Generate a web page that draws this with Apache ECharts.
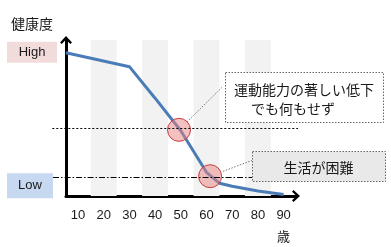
<!DOCTYPE html>
<html><head><meta charset="utf-8">
<script src="https://cdn.jsdelivr.net/npm/echarts@6/dist/echarts.min.js"></script>
<style>html,body{margin:0;padding:0;background:#fff}#c{width:391px;height:247px}</style>
</head><body><div id="c"></div>
<script>
// ---- data ----
const ages = [5.33, 30, 40, 50, 60, 65, 70, 80, 90];
const health = [91.8, 82.9, 62.7, 41.8, 15.2, 8.2, 6.3, 3.2, 1.0];
const xTicks = [10, 20, 30, 40, 50, 60, 70, 80, 90];
const levelValues = [92.1, 6.6];
const levelNames = ['High', 'Low'];
const stripeCenters = [20, 40, 60, 80];
const circleAges = [49.3, 61.4];
const circleValues = [42.4, 12.7];
const refLineValues = [43.7, 12.0];
const calloutTexts = [['運動能力の著しい低下', 'でも何もせず'], ['生活が困難']];

const CJK = '"Noto Sans CJK JP", sans-serif';
const NUM = '"Liberation Sans", "Noto Sans CJK JP", sans-serif';

const chart = echarts.init(document.getElementById('c'), null, {renderer: 'canvas'});
const arrow = 'path://M6,0 L12,6.5 L10.2,8 L6,3.4 L1.8,8 L0,6.5 Z';

const option = {
  animation: false,
  grid: {left: 66, right: 95, top: 40, bottom: 49},
  xAxis: {
    type: 'value', min: 5.33, max: 94.82,
    axisLine: {show: true, lineStyle: {color: '#000', width: 3}, symbol: ['none', arrow], symbolSize: [12, 8]},
    axisTick: {show: false}, splitLine: {show: false},
    axisLabel: {
      customValues: xTicks, margin: 9, color: '#1a1a1a', fontSize: 13, fontFamily: NUM, lineHeight: 21,
      formatter: v => v === 90 ? '90\n{u|歳}' : String(v),
      rich: {u: {fontFamily: CJK, fontSize: 13, color: '#1a1a1a', lineHeight: 21}}
    }
  },
  yAxis: {
    type: 'value', min: 0, max: 100,
    name: '健康度', nameLocation: 'end', nameGap: 16,
    nameTextStyle: {fontFamily: CJK, fontSize: 14, color: '#1a1a1a', align: 'right', verticalAlign: 'middle', padding: [0, 13, 0, 0]},
    axisLine: {show: true, lineStyle: {color: '#000', width: 3}, symbol: ['none', arrow], symbolSize: [12, 8]},
    axisTick: {show: false}, splitLine: {show: false},
    axisLabel: {
      customValues: levelValues, margin: 9, fontFamily: NUM, fontSize: 13,
      formatter: v => v === levelValues[0] ? '{h|' + levelNames[0] + '}' : '{l|' + levelNames[1] + '}{g|}',
      rich: {
        h: {backgroundColor: '#f2dcdb', width: 50, height: 21, align: 'center', verticalAlign: 'middle', color: '#1a1a1a', fontSize: 13},
        l: {backgroundColor: '#c6d9f1', width: 46, height: 25, align: 'center', verticalAlign: 'middle', color: '#1a1a1a', fontSize: 13},
        g: {width: 4}
      }
    }
  },
  series: [{
    type: 'line',
    data: ages.map((a, i) => [a, health[i]]),
    symbol: 'none', smooth: false,
    lineStyle: {color: '#4a7db8', width: 3},
    z: 3,
    markArea: {
      silent: true,
      itemStyle: {color: '#f2f2f2'},
      data: stripeCenters.map(c => [{xAxis: c - 5.05}, {xAxis: c + 5.05}])
    },
    markPoint: {
      silent: true,
      symbol: 'circle', symbolSize: 23,
      itemStyle: {color: 'rgba(236,130,130,0.5)', borderColor: '#c83c3c', borderWidth: 1},
      label: {show: false},
      data: circleAges.map((a, i) => ({coord: [a, circleValues[i]]}))
    }
  }]
};
chart.setOption(option);

// annotations placed through the axes' scales
const px = (a, v) => chart.convertToPixel({xAxisIndex: 0, yAxisIndex: 0}, [a, v]);
const refLineSpans = [[0, 95.6], [0.3, 77.7]];
const refLineDash = [[2, 2], [6, 2, 1.5, 2]];
const connectors = [[[52.4, 47.5], [66.0, 69.6]], [[66.4, 15.8], [77.7, 22.8]]];
const boxCenters = [[97.9, 63.3], [103.6, 19.0]];
const boxSizes = [[158, 50], [133, 30]];
const boxFills = ['#ffffff', '#e9e9e9'];

const g = [];
refLineValues.forEach((v, i) => {
  const p1 = px(refLineSpans[i][0], v), p2 = px(refLineSpans[i][1], v);
  g.push({type: 'line', z: 5, silent: true, shape: {x1: p1[0], y1: Math.round(p1[1]) + 0.5, x2: p2[0], y2: Math.round(p2[1]) + 0.5},
    style: {stroke: '#000', lineWidth: 1, lineDash: refLineDash[i]}});
});
connectors.forEach(c => {
  const p1 = px(c[0][0], c[0][1]), p2 = px(c[1][0], c[1][1]);
  g.push({type: 'line', z: 6, silent: true, shape: {x1: p1[0], y1: p1[1], x2: p2[0], y2: p2[1]},
    style: {stroke: '#777', lineWidth: 1, lineDash: [1.5, 1.5]}});
});
boxCenters.forEach((b, i) => {
  const c = px(b[0], b[1]);
  const w = boxSizes[i][0], h = boxSizes[i][1];
  g.push({type: 'rect', z: 20, silent: true,
    shape: {x: Math.round(c[0] - w / 2) + 0.5, y: Math.round(c[1] - h / 2) + 0.5, width: w, height: h},
    style: {fill: boxFills[i], stroke: '#666', lineWidth: 1, lineDash: [1.5, 1.5]}});
  const lines = calloutTexts[i];
  const lh = 19;
  lines.forEach((t, j) => {
    const dy = (j - (lines.length - 1) / 2) * lh + (lines.length > 1 ? 1.5 : 1);
    const dx = (lines.length > 1 && j === 1) ? -11 : 0;
    g.push({type: 'text', z: 21, silent: true, x: c[0] + dx, y: c[1] + dy,
      style: {text: t, font: '14px ' + CJK, fill: '#1a1a1a', textAlign: 'center', textVerticalAlign: 'middle'}});
  });
});
chart.setOption({graphic: g});
</script>
</body></html>
